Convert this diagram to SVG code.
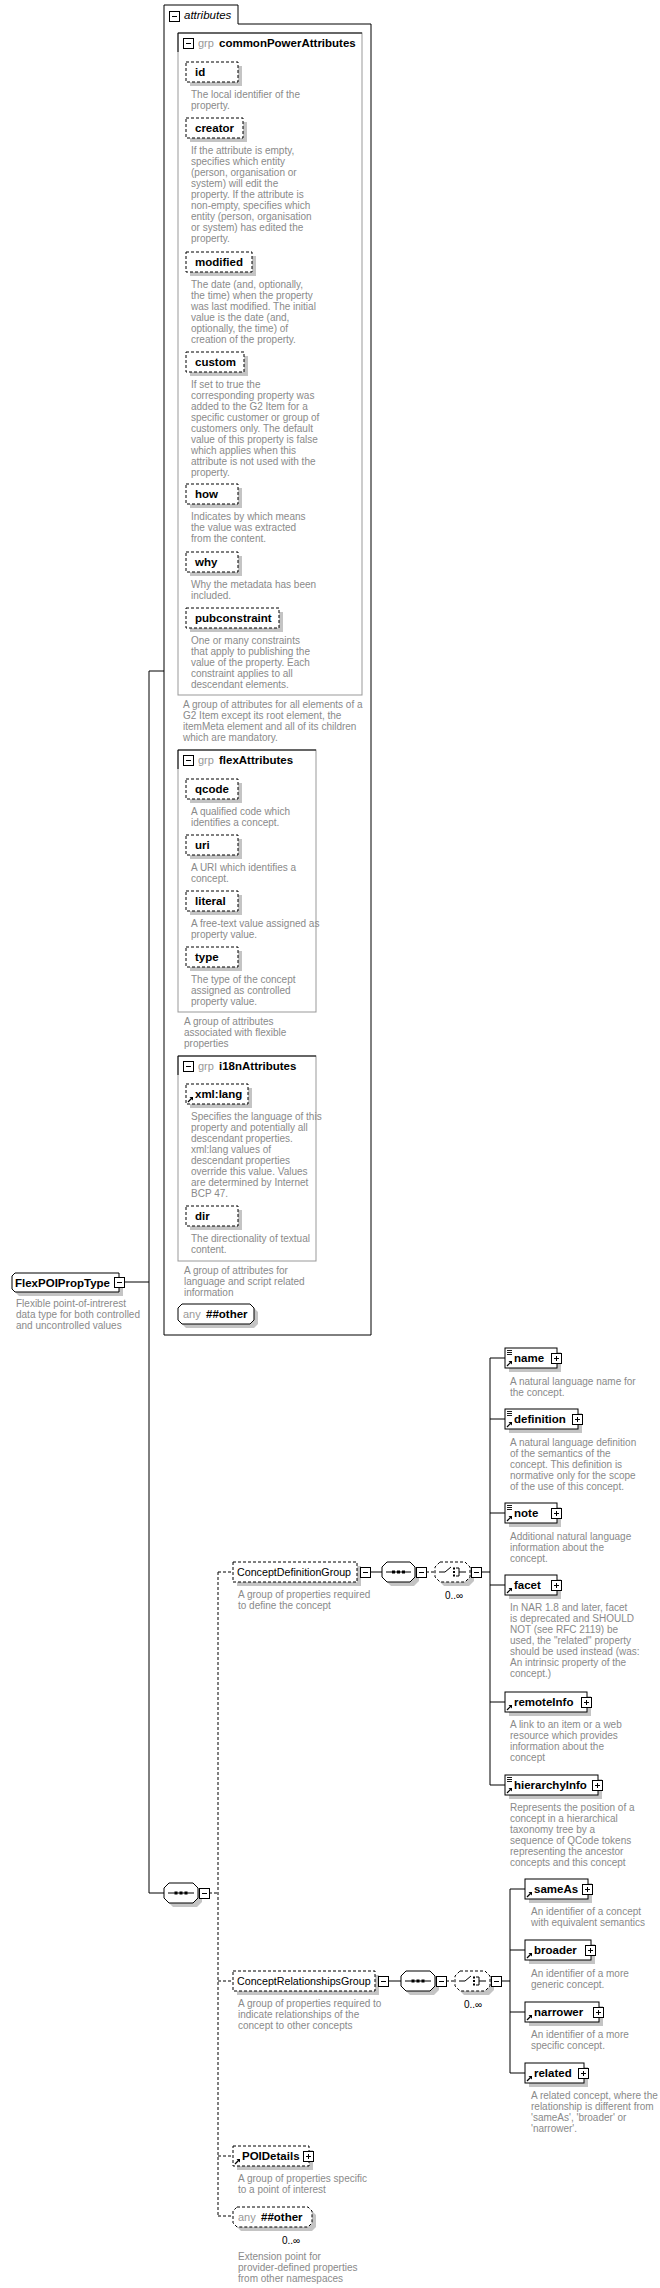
<svg xmlns="http://www.w3.org/2000/svg" width="660" height="2288" viewBox="0 0 660 2288">
<style>
text{font-family:"Liberation Sans",Arial,sans-serif}
.d{font-size:10px;fill:#8a8a8a}
.n{font-size:11.5px;font-weight:bold;fill:#000}
.g{font-size:10.7px;fill:#000}
.gr{font-size:11px;fill:#999}
.o{font-size:10px;fill:#000}
.sh{fill:#c4c4c4;stroke:none}
.b{fill:#fff;stroke:#000;stroke-width:1}
.db{fill:#fff;stroke:#000;stroke-width:1;stroke-dasharray:3,2}
.ln{stroke:#000;stroke-width:1;fill:none}
.dl{stroke:#000;stroke-width:1;fill:none;stroke-dasharray:3,2}
.gb{fill:none;stroke:#999;stroke-width:1}
</style>
<defs>
<g id="plus"><rect x="0.5" y="0.5" width="10" height="10" fill="#fff" stroke="#000"/><path d="M3,5.5H8M5.5,3V8" stroke="#000"/></g>
<g id="minus"><rect x="0.5" y="0.5" width="10" height="10" fill="#fff" stroke="#000"/><path d="M3,5.5H8" stroke="#000"/></g>
<g id="ref"><path d="M2,-2L6,-6" stroke="#000" stroke-width="1.2"/><path d="M3.5,-7H7V-3.5Z" fill="#000"/></g>
<g id="mix"><path d="M2,2.5H7M2,4.5H7M2,6.5H7" stroke="#000" stroke-width="0.9"/></g>
</defs>

<!-- connectors -->
<g id="connectors">
<path class="ln" d="M124,1282H149M149,671V1893M149,671H164M149,1893H164"/>
<path class="dl" d="M209,1893H218M218,1572V2216M218,1572H233M218,1981H233M218,2156H233M218,2216H233"/>
<path class="ln" d="M370,1572H382"/>
<path class="dl" d="M426,1572H435"/>
<path class="ln" d="M481,1572H490M490,1358V1785M490,1358H505M490,1419H505M490,1513H505M490,1585H505M490,1702H505M490,1785H505"/>
<path class="ln" d="M388,1981H401"/>
<path class="dl" d="M446,1981H455"/>
<path class="ln" d="M501,1981H510M510,1889V2073M510,1889H525M510,1950H525M510,2012H525M510,2073H525"/>
</g>

<!-- root type -->
<g id="FlexPOIPropType">
<path class="sh" d="M19,1277H123V1296H19L16,1293V1280Z"/>
<path class="b" d="M15,1273H119V1292H15L12,1289V1276Z"/>
<text class="n" x="15" y="1287">FlexPOIPropType</text>
<use href="#minus" x="114" y="1277"/>
<text class="d" x="16" y="1306.5">Flexible point-of-intrerest</text>
<text class="d" x="16" y="1317.5">data type for both controlled</text>
<text class="d" x="16" y="1329">and uncontrolled values</text>
</g>

<!-- attributes container -->
<g id="attributes">
<path d="M164,5H238V24H371V1335H164Z" fill="none" stroke="#000"/>
<use href="#minus" x="169" y="11"/>
<text x="184" y="19" style="font-size:11.5px;font-style:italic">attributes</text>
</g>

<g id="commonPowerAttributes">
<rect class="gb" x="178" y="33" width="184" height="662"/>
<path class="ln" d="M178,52V33H362"/>
<use href="#minus" x="183" y="38"/>
<text class="gr" x="198" y="47">grp</text>
<text class="n" x="219" y="47">commonPowerAttributes</text>
<text class="d" x="183"><tspan x="183" y="707.5">A group of attributes for all elements of a</tspan><tspan x="183" dy="11">G2 Item except its root element, the</tspan><tspan x="183" dy="11">itemMeta element and all of its children</tspan><tspan x="183" dy="11">which are mandatory.</tspan></text>
</g>

<g id="attr-id">
<rect class="sh" x="190" y="66" width="52" height="20"/><rect class="db" x="186" y="62" width="52" height="20"/>
<text class="n" x="195" y="76">id</text>
<text class="d"><tspan x="191" y="97.5">The local identifier of the</tspan><tspan x="191" dy="11">property.</tspan></text>
</g>
<g id="attr-creator">
<rect class="sh" x="190" y="122" width="57" height="20"/><rect class="db" x="186" y="118" width="57" height="20"/>
<text class="n" x="195" y="132">creator</text>
<text class="d"><tspan x="191" y="153.5">If the attribute is empty,</tspan><tspan x="191" dy="11">specifies which entity</tspan><tspan x="191" dy="11">(person, organisation or</tspan><tspan x="191" dy="11">system) will edit the</tspan><tspan x="191" dy="11">property. If the attribute is</tspan><tspan x="191" dy="11">non-empty, specifies which</tspan><tspan x="191" dy="11">entity (person, organisation</tspan><tspan x="191" dy="11">or system) has edited the</tspan><tspan x="191" dy="11">property.</tspan></text>
</g>
<g id="attr-modified">
<rect class="sh" x="190" y="256" width="66" height="20"/><rect class="db" x="186" y="252" width="66" height="20"/>
<text class="n" x="195" y="266">modified</text>
<text class="d"><tspan x="191" y="287.5">The date (and, optionally,</tspan><tspan x="191" dy="11">the time) when the property</tspan><tspan x="191" dy="11">was last modified. The initial</tspan><tspan x="191" dy="11">value is the date (and,</tspan><tspan x="191" dy="11">optionally, the time) of</tspan><tspan x="191" dy="11">creation of the property.</tspan></text>
</g>
<g id="attr-custom">
<rect class="sh" x="190" y="356" width="58" height="20"/><rect class="db" x="186" y="352" width="58" height="20"/>
<text class="n" x="195" y="366">custom</text>
<text class="d"><tspan x="191" y="387.5">If set to true the</tspan><tspan x="191" dy="11">corresponding property was</tspan><tspan x="191" dy="11">added to the G2 Item for a</tspan><tspan x="191" dy="11">specific customer or group of</tspan><tspan x="191" dy="11">customers only. The default</tspan><tspan x="191" dy="11">value of this property is false</tspan><tspan x="191" dy="11">which applies when this</tspan><tspan x="191" dy="11">attribute is not used with the</tspan><tspan x="191" dy="11">property.</tspan></text>
</g>
<g id="attr-how">
<rect class="sh" x="190" y="488" width="52" height="20"/><rect class="db" x="186" y="484" width="52" height="20"/>
<text class="n" x="195" y="498">how</text>
<text class="d"><tspan x="191" y="519.5">Indicates by which means</tspan><tspan x="191" dy="11">the value was extracted</tspan><tspan x="191" dy="11">from the content.</tspan></text>
</g>
<g id="attr-why">
<rect class="sh" x="190" y="556" width="52" height="20"/><rect class="db" x="186" y="552" width="52" height="20"/>
<text class="n" x="195" y="566">why</text>
<text class="d"><tspan x="191" y="587.5">Why the metadata has been</tspan><tspan x="191" dy="11">included.</tspan></text>
</g>
<g id="attr-pubconstraint">
<rect class="sh" x="190" y="612" width="93" height="20"/><rect class="db" x="186" y="608" width="93" height="20"/>
<text class="n" x="195" y="622">pubconstraint</text>
<text class="d"><tspan x="191" y="643.5">One or many constraints</tspan><tspan x="191" dy="11">that apply to publishing the</tspan><tspan x="191" dy="11">value of the property. Each</tspan><tspan x="191" dy="11">constraint applies to all</tspan><tspan x="191" dy="11">descendant elements.</tspan></text>
</g>

<g id="flexAttributes">
<rect class="gb" x="178" y="750" width="138" height="262"/>
<path class="ln" d="M178,769V750H316"/>
<use href="#minus" x="183" y="755"/>
<text class="gr" x="198" y="764">grp</text>
<text class="n" x="219" y="764">flexAttributes</text>
<text class="d"><tspan x="184" y="1024.5">A group of attributes</tspan><tspan x="184" dy="11">associated with flexible</tspan><tspan x="184" dy="11">properties</tspan></text>
</g>
<g id="attr-qcode">
<rect class="sh" x="190" y="783" width="52" height="20"/><rect class="db" x="186" y="779" width="52" height="20"/>
<text class="n" x="195" y="793">qcode</text>
<text class="d"><tspan x="191" y="814.5">A qualified code which</tspan><tspan x="191" dy="11">identifies a concept.</tspan></text>
</g>
<g id="attr-uri">
<rect class="sh" x="190" y="839" width="52" height="20"/><rect class="db" x="186" y="835" width="52" height="20"/>
<text class="n" x="195" y="849">uri</text>
<text class="d"><tspan x="191" y="870.5">A URI which identifies a</tspan><tspan x="191" dy="11">concept.</tspan></text>
</g>
<g id="attr-literal">
<rect class="sh" x="190" y="895" width="52" height="20"/><rect class="db" x="186" y="891" width="52" height="20"/>
<text class="n" x="195" y="905">literal</text>
<text class="d"><tspan x="191" y="926.5">A free-text value assigned as</tspan><tspan x="191" dy="11">property value.</tspan></text>
</g>
<g id="attr-type">
<rect class="sh" x="190" y="951" width="52" height="20"/><rect class="db" x="186" y="947" width="52" height="20"/>
<text class="n" x="195" y="961">type</text>
<text class="d"><tspan x="191" y="982.5">The type of the concept</tspan><tspan x="191" dy="11">assigned as controlled</tspan><tspan x="191" dy="11">property value.</tspan></text>
</g>

<g id="i18nAttributes">
<rect class="gb" x="178" y="1056" width="138" height="205"/>
<path class="ln" d="M178,1075V1056H316"/>
<use href="#minus" x="183" y="1061"/>
<text class="gr" x="198" y="1070">grp</text>
<text class="n" x="219" y="1070">i18nAttributes</text>
<text class="d"><tspan x="184" y="1273.5">A group of attributes for</tspan><tspan x="184" dy="11">language and script related</tspan><tspan x="184" dy="11">information</tspan></text>
</g>
<g id="attr-xmllang">
<rect class="sh" x="190" y="1088" width="62" height="20"/><rect class="db" x="186" y="1084" width="62" height="20"/>
<use href="#ref" x="186" y="1104"/>
<text class="n" x="195" y="1098">xml:lang</text>
<text class="d"><tspan x="191" y="1119.5">Specifies the language of this</tspan><tspan x="191" dy="11">property and potentially all</tspan><tspan x="191" dy="11">descendant properties.</tspan><tspan x="191" dy="11">xml:lang values of</tspan><tspan x="191" dy="11">descendant properties</tspan><tspan x="191" dy="11">override this value. Values</tspan><tspan x="191" dy="11">are determined by Internet</tspan><tspan x="191" dy="11">BCP 47.</tspan></text>
</g>
<g id="attr-dir">
<rect class="sh" x="190" y="1210" width="52" height="20"/><rect class="db" x="186" y="1206" width="52" height="20"/>
<text class="n" x="195" y="1220">dir</text>
<text class="d"><tspan x="191" y="1241.5">The directionality of textual</tspan><tspan x="191" dy="11">content.</tspan></text>
</g>
<g id="attr-any">
<path class="sh" d="M186,1308H254L258,1312V1324L254,1328H186L182,1324V1312Z"/>
<path class="b" d="M182,1304H250L254,1308V1320L250,1324H182L178,1320V1308Z"/>
<text class="gr" x="183" y="1318">any</text>
<text class="n" x="206" y="1318">##other</text>
</g>

<!-- main sequence -->
<g id="sequence-main">
<path class="sh" d="M173,1887H197L202,1892V1902L197,1907H173L168,1902V1892Z"/>
<path class="b" d="M169,1883H193L198,1888V1898L193,1903H169L164,1898V1888Z"/>
<path class="ln" d="M168,1893H194"/>
<path d="M174.5,1891.5h3v3h-3zM179.5,1891.5h3v3h-3zM184.5,1891.5h3v3h-3z" fill="#000"/>
<use href="#minus" x="199" y="1888"/>
</g>

<!-- ConceptDefinitionGroup -->
<g id="ConceptDefinitionGroup">
<rect class="sh" x="237" y="1566" width="124" height="20"/><rect class="db" x="233" y="1562" width="124" height="20"/>
<text class="g" x="237" y="1576">ConceptDefinitionGroup</text>
<use href="#minus" x="360" y="1567"/>
<text class="d"><tspan x="238" y="1598">A group of properties required</tspan><tspan x="238" dy="11">to define the concept</tspan></text>
</g>
<g id="cdg-sequence">
<path class="sh" d="M391,1566H414L419,1571V1581L414,1586H391L386,1581V1571Z"/>
<path class="b" d="M387,1562H410L415,1567V1577L410,1582H387L382,1577V1567Z"/>
<path class="ln" d="M386,1572H411"/>
<path d="M392,1570.5h3v3h-3zM397,1570.5h3v3h-3zM402,1570.5h3v3h-3z" fill="#000"/>
<use href="#minus" x="416" y="1567"/>
</g>
<g id="cdg-choice">
<path class="sh" d="M444,1566H469L474,1571V1581L469,1586H444L439,1581V1571Z"/>
<path class="db" d="M440,1562H465L470,1567V1577L465,1582H440L435,1577V1567Z"/>
<path class="ln" d="M439,1572H445L451,1567M456,1568H459V1576H456M459,1572H466"/>
<path d="M453,1567.5h2v2h-2zM453,1571h2v2h-2zM453,1574.5h2v2h-2z" fill="#000"/>
<use href="#minus" x="471" y="1567"/>
<text class="o" x="445" y="1599">0..∞</text>
</g>

<g id="el-name">
<rect class="sh" x="509" y="1352" width="52" height="20"/><rect class="b" x="505" y="1348" width="52" height="20"/>
<use href="#mix" x="505" y="1348"/><use href="#ref" x="505" y="1368"/>
<text class="n" x="514" y="1362">name</text>
<use href="#plus" x="551" y="1353"/>
<text class="d"><tspan x="510" y="1384.5">A natural language name for</tspan><tspan x="510" dy="11">the concept.</tspan></text>
</g>
<g id="el-definition">
<rect class="sh" x="509" y="1413" width="73" height="20"/><rect class="b" x="505" y="1409" width="73" height="20"/>
<use href="#mix" x="505" y="1409"/><use href="#ref" x="505" y="1429"/>
<text class="n" x="514" y="1423">definition</text>
<use href="#plus" x="572" y="1414"/>
<text class="d"><tspan x="510" y="1445.5">A natural language definition</tspan><tspan x="510" dy="11">of the semantics of the</tspan><tspan x="510" dy="11">concept. This definition is</tspan><tspan x="510" dy="11">normative only for the scope</tspan><tspan x="510" dy="11">of the use of this concept.</tspan></text>
</g>
<g id="el-note">
<rect class="sh" x="509" y="1507" width="52" height="20"/><rect class="b" x="505" y="1503" width="52" height="20"/>
<use href="#mix" x="505" y="1503"/><use href="#ref" x="505" y="1523"/>
<text class="n" x="514" y="1517">note</text>
<use href="#plus" x="551" y="1508"/>
<text class="d"><tspan x="510" y="1539.5">Additional natural language</tspan><tspan x="510" dy="11">information about the</tspan><tspan x="510" dy="11">concept.</tspan></text>
</g>
<g id="el-facet">
<rect class="sh" x="509" y="1579" width="52" height="20"/><rect class="b" x="505" y="1575" width="52" height="20"/>
<use href="#ref" x="505" y="1595"/>
<text class="n" x="514" y="1589">facet</text>
<use href="#plus" x="551" y="1580"/>
<text class="d"><tspan x="510" y="1610.5">In NAR 1.8 and later, facet</tspan><tspan x="510" dy="11">is deprecated and SHOULD</tspan><tspan x="510" dy="11">NOT (see RFC 2119) be</tspan><tspan x="510" dy="11">used, the "related" property</tspan><tspan x="510" dy="11">should be used instead (was:</tspan><tspan x="510" dy="11">An intrinsic property of the</tspan><tspan x="510" dy="11">concept.)</tspan></text>
</g>
<g id="el-remoteInfo">
<rect class="sh" x="509" y="1696" width="82" height="20"/><rect class="b" x="505" y="1692" width="82" height="20"/>
<use href="#ref" x="505" y="1712"/>
<text class="n" x="514" y="1706">remoteInfo</text>
<use href="#plus" x="581" y="1697"/>
<text class="d"><tspan x="510" y="1727.5">A link to an item or a web</tspan><tspan x="510" dy="11">resource which provides</tspan><tspan x="510" dy="11">information about the</tspan><tspan x="510" dy="11">concept</tspan></text>
</g>
<g id="el-hierarchyInfo">
<rect class="sh" x="509" y="1779" width="93" height="20"/><rect class="b" x="505" y="1775" width="93" height="20"/>
<use href="#mix" x="505" y="1775"/><use href="#ref" x="505" y="1795"/>
<text class="n" x="514" y="1789">hierarchyInfo</text>
<use href="#plus" x="592" y="1780"/>
<text class="d"><tspan x="510" y="1810.5">Represents the position of a</tspan><tspan x="510" dy="11">concept in a hierarchical</tspan><tspan x="510" dy="11">taxonomy tree by a</tspan><tspan x="510" dy="11">sequence of QCode tokens</tspan><tspan x="510" dy="11">representing the ancestor</tspan><tspan x="510" dy="11">concepts and this concept</tspan></text>
</g>

<!-- ConceptRelationshipsGroup -->
<g id="ConceptRelationshipsGroup">
<rect class="sh" x="237" y="1975" width="142" height="20"/><rect class="db" x="233" y="1971" width="142" height="20"/>
<text class="g" x="237" y="1985">ConceptRelationshipsGroup</text>
<use href="#minus" x="378" y="1976"/>
<text class="d"><tspan x="238" y="2007">A group of properties required to</tspan><tspan x="238" dy="11">indicate relationships of the</tspan><tspan x="238" dy="11">concept to other concepts</tspan></text>
</g>
<g id="crg-sequence">
<path class="sh" d="M410,1975H434L439,1980V1990L434,1995H410L405,1990V1980Z"/>
<path class="b" d="M406,1971H430L435,1976V1986L430,1991H406L401,1986V1976Z"/>
<path class="ln" d="M405,1981H431"/>
<path d="M411.5,1979.5h3v3h-3zM416.5,1979.5h3v3h-3zM421.5,1979.5h3v3h-3z" fill="#000"/>
<use href="#minus" x="436" y="1976"/>
</g>
<g id="crg-choice">
<path class="sh" d="M464,1975H489L494,1980V1990L489,1995H464L459,1990V1980Z"/>
<path class="db" d="M460,1971H485L490,1976V1986L485,1991H460L455,1986V1976Z"/>
<path class="ln" d="M459,1981H465L471,1976M476,1977H479V1985H476M479,1981H486"/>
<path d="M473,1976.5h2v2h-2zM473,1980h2v2h-2zM473,1983.5h2v2h-2z" fill="#000"/>
<use href="#minus" x="491" y="1976"/>
<text class="o" x="464" y="2008">0..∞</text>
</g>

<g id="el-sameAs">
<rect class="sh" x="529" y="1883" width="63" height="20"/><rect class="b" x="525" y="1879" width="63" height="20"/>
<use href="#ref" x="525" y="1899"/>
<text class="n" x="534" y="1893">sameAs</text>
<use href="#plus" x="582" y="1884"/>
<text class="d"><tspan x="531" y="1914.5">An identifier of a concept</tspan><tspan x="531" dy="11">with equivalent semantics</tspan></text>
</g>
<g id="el-broader">
<rect class="sh" x="529" y="1944" width="66" height="20"/><rect class="b" x="525" y="1940" width="66" height="20"/>
<use href="#ref" x="525" y="1960"/>
<text class="n" x="534" y="1954">broader</text>
<use href="#plus" x="585" y="1945"/>
<text class="d"><tspan x="531" y="1976.5">An identifier of a more</tspan><tspan x="531" dy="11">generic concept.</tspan></text>
</g>
<g id="el-narrower">
<rect class="sh" x="529" y="2006" width="74" height="20"/><rect class="b" x="525" y="2002" width="74" height="20"/>
<use href="#ref" x="525" y="2022"/>
<text class="n" x="534" y="2016">narrower</text>
<use href="#plus" x="593" y="2007"/>
<text class="d"><tspan x="531" y="2037.5">An identifier of a more</tspan><tspan x="531" dy="11">specific concept.</tspan></text>
</g>
<g id="el-related">
<rect class="sh" x="529" y="2067" width="59" height="20"/><rect class="b" x="525" y="2063" width="59" height="20"/>
<use href="#ref" x="525" y="2083"/>
<text class="n" x="534" y="2077">related</text>
<use href="#plus" x="578" y="2068"/>
<text class="d"><tspan x="531" y="2098.5">A related concept, where the</tspan><tspan x="531" dy="11">relationship is different from</tspan><tspan x="531" dy="11">'sameAs', 'broader' or</tspan><tspan x="531" dy="11">'narrower'.</tspan></text>
</g>

<g id="POIDetails">
<rect class="sh" x="237" y="2150" width="76" height="20"/><rect class="db" x="233" y="2146" width="76" height="20"/>
<use href="#ref" x="233" y="2166"/>
<text class="n" x="242" y="2160">POIDetails</text>
<use href="#plus" x="303" y="2151"/>
<text class="d"><tspan x="238" y="2181.5">A group of properties specific</tspan><tspan x="238" dy="11">to a point of interest</tspan></text>
</g>
<g id="el-any">
<path class="sh" d="M241,2211H312L316,2215V2227L312,2231H241L237,2227V2215Z"/>
<path class="db" d="M237,2207H308L312,2211V2223L308,2227H237L233,2223V2211Z"/>
<text class="gr" x="238" y="2221">any</text>
<text class="n" x="261" y="2221">##other</text>
<text class="o" x="282" y="2244">0..∞</text>
<text class="d"><tspan x="238" y="2259.5">Extension point for</tspan><tspan x="238" dy="11">provider-defined properties</tspan><tspan x="238" dy="11">from other namespaces</tspan></text>
</g>
</svg>
